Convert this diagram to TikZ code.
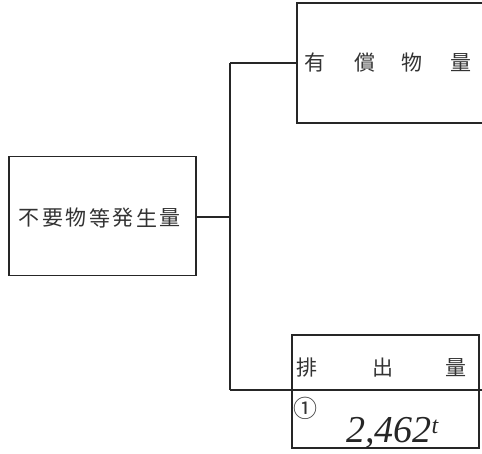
\documentclass[tikz,border=0pt]{standalone}
\usepackage{fontspec}
\newfontfamily\jp{Noto Sans CJK JP}
\newfontfamily\hand{Liberation Serif}
\begin{document}
\begin{tikzpicture}[x=1pt,y=-1pt,
  box/.style={draw=black!85,line width=1.5pt,rectangle,inner sep=0pt},
  conn/.style={draw=black!85,line width=1.5pt},
  ch/.style={font=\jp\fontsize{21}{21}\selectfont,text=black!80,inner sep=0pt}]
\useasboundingbox (0,0) rectangle (482,453);
\clip (0,0) rectangle (482,453);
\fill[white] (0,0) rectangle (482,453);
% boxes
\node[box,minimum width=187pt,minimum height=119pt] (src) at (102.5,216) {};
\node[box,minimum width=190pt,minimum height=120pt] (paid) at (392,63) {};
\node[box,minimum width=187pt,minimum height=113pt] (disp) at (385.5,391.5) {};
% junctions
\coordinate (jm) at (230,217);
\coordinate (jt) at (230,63);
\coordinate (jb) at (230,390);
\coordinate (re) at (484,390);
\draw[conn] (src.east |- jm) -- (jm);
\draw[conn] (jt) -- (jb);
\draw[conn] (jt) -- (paid.west |- jt);
\draw[conn] (jb) -- (re);
% left text
\foreach \c [count=\i from 0] in {不,要,物,等,発,生,量}
  \node[ch] (s\i) at (29+\i*23.5,218) {\c};
% top text
\node[ch] (p1) at (315,63) {有};
\node[ch] (p2) at (365,63) {償};
\node[ch] (p3) at (412,63) {物};
\node[ch] (p4) at (461,63) {量};
% bottom text
\node[ch] (d1) at (307,368) {排};
\node[ch] (d2) at (383,368) {出};
\node[ch] (d3) at (456,368) {量};
\node[font=\jp\fontsize{24}{24}\selectfont,text=black!80,inner sep=0pt] (num) at (305,408) {①};
\node[font=\hand\itshape\fontsize{38}{38}\selectfont,text=black!85,inner sep=0pt,anchor=base west] (val) at (346,442) {2,462\raisebox{9pt}{\fontsize{24}{24}\selectfont t}};
\end{tikzpicture}
\end{document}
